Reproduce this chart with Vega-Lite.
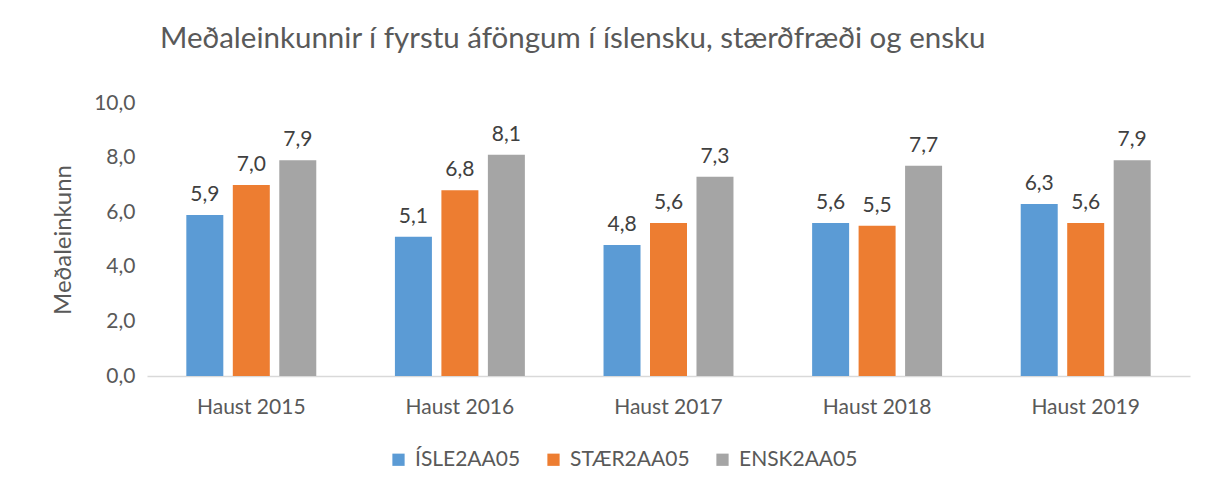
{
  "$schema": "https://vega.github.io/schema/vega-lite/v6.json",
  "autosize": "none",
  "width": 1043,
  "height": 273,
  "padding": {"left": 147, "top": 103, "right": 18, "bottom": 112},
  "background": "white",
  "config": {
    "font": "Lato",
    "view": {"stroke": null},
    "locale": {"number": {"decimal": ",", "thousands": ".", "grouping": [3], "currency": ["", ""]}}
  },
  "title": {
    "text": "Meðaleinkunnir í fyrstu áföngum í íslensku, stærðfræði og ensku",
    "anchor": "start",
    "frame": "group",
    "dx": 13,
    "offset": 38,
    "fontSize": 29.5,
    "font": "Lato",
    "fontWeight": "normal",
    "color": "#595959"
  },
  "data": {
    "values": [
      {"ar": "Haust 2015", "afangi": "ÍSLE2AA05", "v": 5.9},
      {"ar": "Haust 2015", "afangi": "STÆR2AA05", "v": 7.0},
      {"ar": "Haust 2015", "afangi": "ENSK2AA05", "v": 7.9},
      {"ar": "Haust 2016", "afangi": "ÍSLE2AA05", "v": 5.1},
      {"ar": "Haust 2016", "afangi": "STÆR2AA05", "v": 6.8},
      {"ar": "Haust 2016", "afangi": "ENSK2AA05", "v": 8.1},
      {"ar": "Haust 2017", "afangi": "ÍSLE2AA05", "v": 4.8},
      {"ar": "Haust 2017", "afangi": "STÆR2AA05", "v": 5.6},
      {"ar": "Haust 2017", "afangi": "ENSK2AA05", "v": 7.3},
      {"ar": "Haust 2018", "afangi": "ÍSLE2AA05", "v": 5.6},
      {"ar": "Haust 2018", "afangi": "STÆR2AA05", "v": 5.5},
      {"ar": "Haust 2018", "afangi": "ENSK2AA05", "v": 7.7},
      {"ar": "Haust 2019", "afangi": "ÍSLE2AA05", "v": 6.3},
      {"ar": "Haust 2019", "afangi": "STÆR2AA05", "v": 5.6},
      {"ar": "Haust 2019", "afangi": "ENSK2AA05", "v": 7.9}
    ]
  },
  "encoding": {
    "x": {
      "field": "ar",
      "type": "nominal",
      "scale": {"paddingInner": 0.377, "paddingOuter": 0.1885},
      "axis": {
        "title": null,
        "labelAngle": 0,
        "labelFontSize": 21,
        "labelColor": "#595959",
        "labelPadding": 20,
        "ticks": false,
        "domainColor": "#D9D9D9",
        "domainWidth": 1.5
      }
    },
    "xOffset": {
      "field": "afangi",
      "sort": ["ÍSLE2AA05", "STÆR2AA05", "ENSK2AA05"],
      "scale": {"paddingInner": 0.204, "paddingOuter": 0}
    },
    "y": {
      "field": "v",
      "type": "quantitative",
      "scale": {"domain": [0, 10]},
      "axis": {
        "title": "Meðaleinkunn",
        "titleFontSize": 24,
        "titleFontWeight": "normal",
        "titleColor": "#595959",
        "titlePadding": 18,
        "values": [0, 2, 4, 6, 8, 10],
        "format": ".1f",
        "labelOverlap": false,
        "labelFontSize": 21,
        "labelColor": "#595959",
        "labelPadding": 12,
        "ticks": false,
        "domain": false,
        "grid": false
      }
    }
  },
  "layer": [
    {
      "mark": {"type": "bar"},
      "encoding": {
        "color": {
          "field": "afangi",
          "type": "nominal",
          "sort": ["ÍSLE2AA05", "STÆR2AA05", "ENSK2AA05"],
          "scale": {"domain": ["ÍSLE2AA05", "STÆR2AA05", "ENSK2AA05"], "range": ["#5B9BD5", "#ED7D31", "#A5A5A5"]},
          "legend": {
            "title": null,
            "orient": "none",
            "legendX": 241,
            "legendY": 346,
            "direction": "horizontal",
            "symbolType": "square",
            "symbolSize": 150,
            "symbolStrokeWidth": 0,
            "labelFontSize": 21,
            "labelColor": "#595959",
            "labelOffset": 6,
            "columnPadding": 22
          }
        }
      }
    },
    {
      "mark": {"type": "text", "baseline": "bottom", "dy": -10, "fontSize": 21, "color": "#404040"},
      "encoding": {
        "text": {"field": "v", "type": "quantitative", "format": ".1f"}
      }
    }
  ]
}
